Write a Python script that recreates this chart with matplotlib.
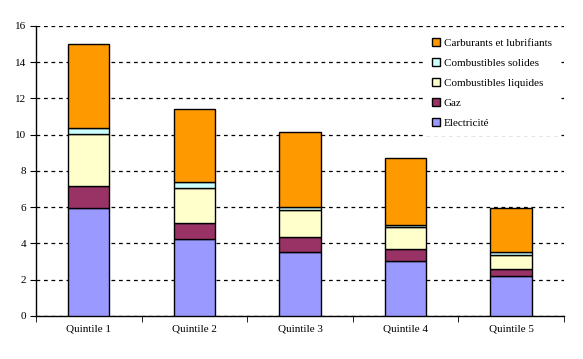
import matplotlib.pyplot as plt
import numpy as np

plt.rcParams['font.family'] = ['Liberation Serif', 'DejaVu Serif']

# categories and stacked values
quintiles = ["Quintile 1", "Quintile 2", "Quintile 3", "Quintile 4", "Quintile 5"]
electricite = [5.96, 4.23, 3.51, 3.02, 2.19]
gaz = [1.21, 0.90, 0.85, 0.66, 0.39]
liquides = [2.85, 1.91, 1.47, 1.21, 0.79]
solides = [0.33, 0.34, 0.18, 0.13, 0.14]
carburants = [4.64, 4.02, 4.12, 3.68, 2.45]

series = [
    ("Electricité", electricite, "#9999FF"),
    ("Gaz", gaz, "#993366"),
    ("Combustibles liquides", liquides, "#FFFFCC"),
    ("Combustibles solides", solides, "#CCFFFF"),
    ("Carburants et lubrifiants", carburants, "#FF9900"),
]

fig = plt.figure(figsize=(5.83, 3.59), dpi=100)
ax = fig.add_axes([0.062, 0.12, 0.905, 0.808])

x = np.arange(len(quintiles))
bottom = np.zeros(len(quintiles))
for name, vals, col in series:
    ax.bar(x, vals, width=0.39, bottom=bottom, color=col, edgecolor="black",
           linewidth=1, label=name, zorder=3)
    bottom += np.array(vals)

ax.set_xlim(-0.5, len(quintiles) - 0.5)
ax.set_ylim(0, 16)
ax.set_yticks(range(0, 17, 2))
ax.tick_params(axis="y", labelsize=8, length=4, direction="out", pad=3)

# category labels at centres, tick marks on boundaries
ax.set_xticks(x)
ax.set_xticklabels(quintiles, fontsize=8)
ax.set_xticks(np.arange(-0.5, len(quintiles)), minor=True)
ax.tick_params(axis="x", which="major", length=0, pad=6)
ax.tick_params(axis="x", which="minor", length=4, direction="out")

ax.yaxis.grid(True, color="black", linestyle=(0, (3, 3)), linewidth=0.9)
ax.set_axisbelow(True)
for s in ["top", "right"]:
    ax.spines[s].set_visible(False)
ax.spines["left"].set_linewidth(1)
ax.spines["bottom"].set_linewidth(1)

handles, labels = ax.get_legend_handles_labels()
leg = ax.legend(handles[::-1], labels[::-1], loc="upper right",
                bbox_to_anchor=(1.0, 1.0), fontsize=8, frameon=True,
                handlelength=0.7, handleheight=0.7, handletextpad=0.35,
                labelspacing=0.92, borderpad=0.6, fancybox=False)
leg.get_frame().set_edgecolor("white")
leg.get_frame().set_facecolor("white")
leg.get_frame().set_alpha(1)
leg.set_zorder(5)

fig.savefig("out.png", dpi=100)
